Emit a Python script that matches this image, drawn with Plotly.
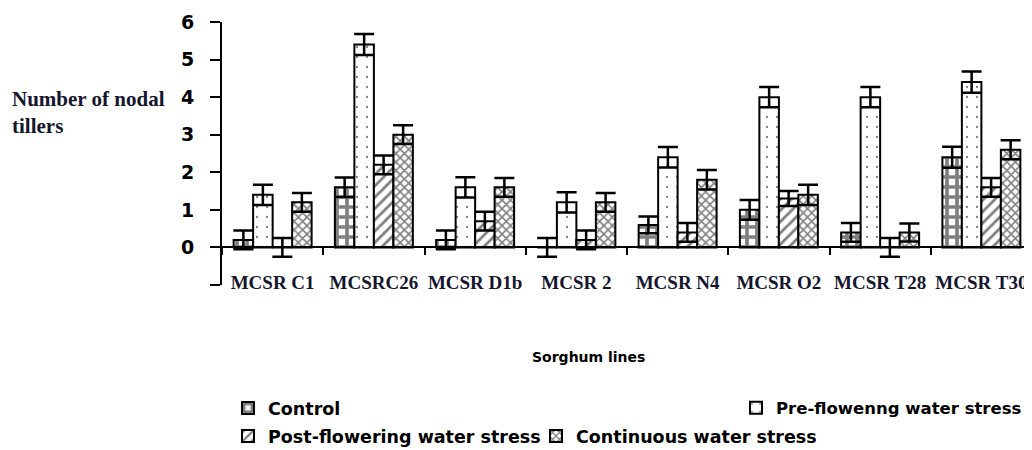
import plotly.graph_objects as go

categories = ["MCSR C1", "MCSRC26", "MCSR D1b", "MCSR 2", "MCSR N4", "MCSR O2", "MCSR T28", "MCSR T30"]
control = [0.2, 1.6, 0.2, 0.0, 0.6, 1.0, 0.4, 2.4]
control_err = [0.25, 0.26, 0.25, 0.25, 0.22, 0.26, 0.25, 0.28]
pre = [1.4, 5.4, 1.6, 1.2, 2.4, 4.0, 4.0, 4.4]
pre_err = [0.27, 0.28, 0.27, 0.27, 0.27, 0.27, 0.27, 0.28]
post = [0.0, 2.2, 0.7, 0.2, 0.4, 1.3, 0.0, 1.6]
post_err = [0.25, 0.25, 0.25, 0.25, 0.25, 0.2, 0.25, 0.25]
cont = [1.2, 3.0, 1.6, 1.2, 1.8, 1.4, 0.4, 2.6]
cont_err = [0.25, 0.25, 0.25, 0.25, 0.26, 0.27, 0.24, 0.25]
y_ticks = [-1, 0, 1, 2, 3, 4, 5, 6]
y_ticktext = ["", "0", "1", "2", "3", "4", "5", "6"]

series = [
    ("Control", control, control_err, dict(shape="+", size=10, solidity=0.6), "legend"),
    ("Pre-flowenng water stress", pre, pre_err, dict(shape=".", size=10, solidity=0.04), "legend2"),
    ("Post-flowering water stress", post, post_err, dict(shape="/", size=8, solidity=0.35), "legend3"),
    ("Continuous water stress", cont, cont_err, dict(shape="x", size=6, solidity=0.45), "legend4"),
]

fig = go.Figure()
for name, vals, errs, pat, leg in series:
    fig.add_trace(go.Bar(
        x=categories, y=vals, name=name, legend=leg, showlegend=True,
        marker=dict(color="white", line=dict(color="black", width=2),
                    pattern=dict(fgcolor="black", bgcolor="white", fillmode="overlay", **pat)),
        error_y=dict(type="data", array=errs, visible=True, color="black", thickness=2.5, width=10),
    ))

txt_col = "#15152e"

W, H = 1024, 442  # page body has an 8px default margin


def leg(x, y, size=17.5):
    return dict(orientation="h", xref="container", yref="container", x=x, xanchor="left",
                y=y, yanchor="middle", bgcolor="rgba(0,0,0,0)",
                font=dict(family="DejaVu Sans", size=size, color="black", weight="bold"))


fig.update_layout(
    width=W, height=H, autosize=False, showlegend=True,
    margin=dict(l=214, r=0, t=14, b=165, autoexpand=False),
    plot_bgcolor="white", paper_bgcolor="white",
    barmode="group", bargap=0.23, bargroupgap=0.0,
    xaxis=dict(
        anchor="free", position=1/7, automargin=False,
        showline=True, linecolor="black", linewidth=2,
        ticks="outside", tickson="boundaries", ticklen=7, tickwidth=2, tickcolor="black",
        tickangle=0,
        tickfont=dict(family="Liberation Serif", size=19, color=txt_col, weight="bold"),
        ticklabelstandoff=18, showgrid=False,
    ),
    yaxis=dict(
        range=[-1, 6], tickvals=y_ticks, ticktext=y_ticktext, automargin=False,
        showline=True, linecolor="black", linewidth=2,
        ticks="outside", ticklen=10, tickwidth=2, tickcolor="black",
        tickfont=dict(family="DejaVu Sans", size=19, color="black", weight="bold"),
        ticklabelstandoff=12, showgrid=False, zeroline=False,
    ),
    legend=leg(220 / W, 1 - 400 / H),
    legend2=leg(728 / W, 1 - 400 / H, 16.5),
    legend3=leg(220 / W, 1 - 428 / H),
    legend4=leg(528 / W, 1 - 428 / H),
    annotations=[
        dict(text="Number of nodal<br>tillers", xref="paper", yref="y", x=-0.262, y=3.58,
             xanchor="left", yanchor="middle", align="left", showarrow=False,
             font=dict(family="Liberation Serif", size=21, color=txt_col, weight="bold")),
        dict(text="Sorghum lines", xref="paper", yref="paper", x=0.452, y=-0.274,
             xanchor="center", yanchor="middle", showarrow=False,
             font=dict(family="DejaVu Sans", size=14, color="black", weight="bold")),
    ],
)

fig.write_html("out.html")
